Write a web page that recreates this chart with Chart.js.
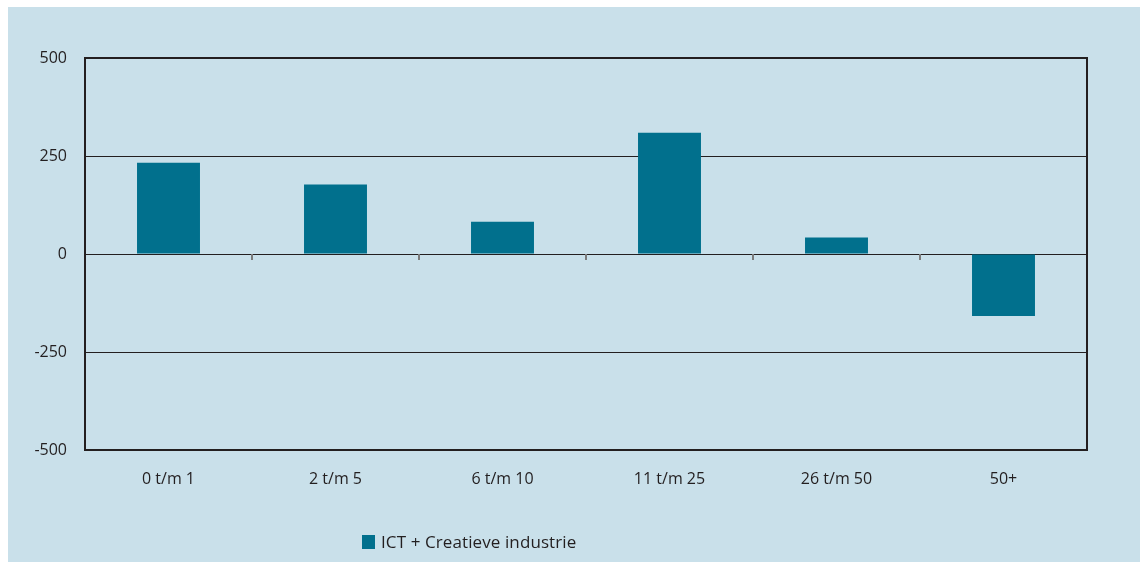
<!DOCTYPE html>
<html>
<head>
<meta charset="utf-8">
<script src="https://cdn.jsdelivr.net/npm/chart.js@4.4.0/dist/chart.umd.min.js"></script>
<style>
  body { margin: 0; background: #fff; font-family: "Open Sans", sans-serif; }
  #panel { position: absolute; left: 8px; top: 7px; width: 1132px; height: 555px; background: #c9e0ea; }
  #chartBox { position: absolute; left: 0; top: 0; width: 1132px; height: 555px; }
  #legend { position: absolute; left: 354px; top: 523px; font-size: 17px; letter-spacing: 0.1px; color: #231f20; white-space: nowrap; }
  #legend span.box { display: inline-block; width: 13px; height: 14px; background: #01708d; vertical-align: -1px; margin-right: 6px; }
</style>
</head>
<body>
<div id="panel">
  <div id="chartBox"><canvas id="bargraph"></canvas></div>
  <div id="legend"><span class="box"></span>ICT + Creatieve industrie</div>
</div>
<script>
var categories = ['0 t/m 1', '2 t/m 5', '6 t/m 10', '11 t/m 25', '26 t/m 50', '50+'];
var seriesName = 'ICT + Creatieve industrie';
var seriesValues = [233, 177, 82, 309, 42, -158];
var yTicks = [-500, -250, 0, 250, 500];

var ink = '#231f20';

// frame round the plot and the small marks on the zero line
var framePlugin = {
    id: 'frame',
    afterDraw: function(chart) {
        var ctx = chart.ctx, a = chart.chartArea;
        var x = chart.scales.x, y = chart.scales.y;
        var zero = Math.round(y.getPixelForValue(0));
        ctx.save();
        ctx.fillStyle = '#7a7a7a';
        var half = (x.getPixelForValue(1) - x.getPixelForValue(0)) / 2;
        for (var i = 0; i <= categories.length; i++) {
            var px = Math.round(x.getPixelForValue(i) - half);
            ctx.fillRect(px - 1, zero, 2, 6);
        }
        ctx.strokeStyle = ink;
        ctx.lineWidth = 2;
        ctx.strokeRect(Math.round(a.left), Math.round(a.top), Math.round(a.right - a.left), Math.round(a.bottom - a.top));
        ctx.restore();
    }
};

var ctx = document.getElementById('bargraph').getContext('2d');
window.myBar = new Chart(ctx, {
    type: 'bar',
    data: {
        labels: categories,
        datasets: [{
            label: seriesName,
            backgroundColor: '#01708d',
            borderWidth: 0,
            data: seriesValues,
            barPercentage: 1,
            categoryPercentage: 0.377
        }]
    },
    options: {
        responsive: true,
        maintainAspectRatio: false,
        animation: false,
        layout: { padding: { left: 0, right: 53, top: 51, bottom: 0 } },
        plugins: {
            legend: { display: false },
            tooltip: { enabled: false }
        },
        scales: {
            x: {
                grid: { display: false, drawTicks: false },
                border: { display: false },
                ticks: { color: ink, padding: 20, font: { family: 'Open Sans', size: 16 } },
                afterFit: function(scale) { scale.height = 112; }
            },
            y: {
                min: -500,
                max: 500,
                afterBuildTicks: function(scale) {
                    scale.ticks = yTicks.map(function(v) { return { value: v }; });
                },
                grid: { color: ink, lineWidth: 1, drawTicks: false },
                border: { display: false },
                ticks: { color: ink, padding: 18, font: { family: 'Open Sans', size: 16 } },
                afterFit: function(scale) { scale.width = 77; }
            }
        }
    },
    plugins: [framePlugin]
});
</script>
</body>
</html>
